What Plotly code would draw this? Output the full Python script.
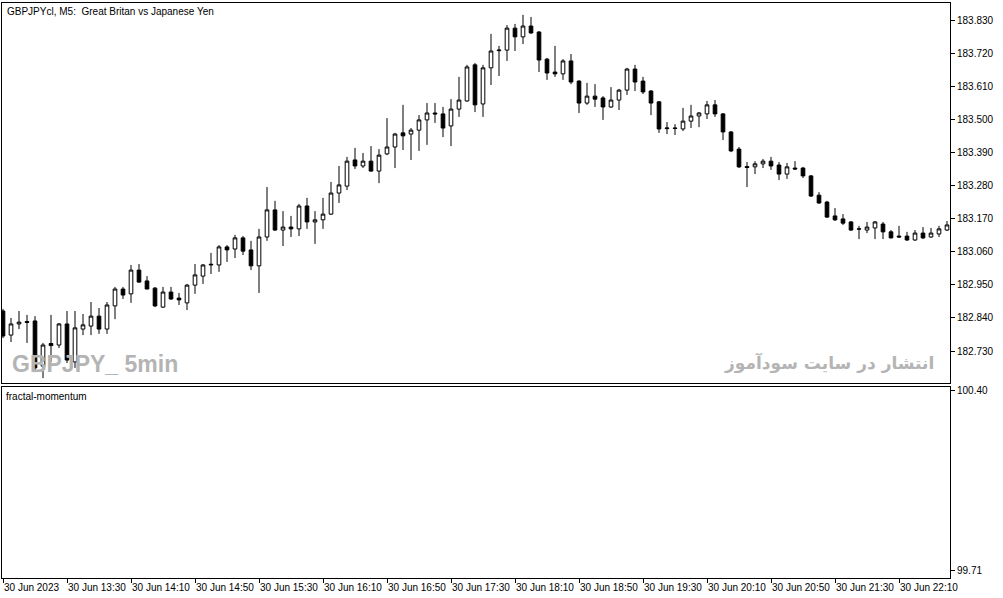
import pandas as pd
import plotly.graph_objects as go
from plotly.subplots import make_subplots

# 5-minute bars, 30 Jun 2023, from 12:50
times = pd.date_range("2023-06-30 12:50", periods=119, freq="5min")

opens = [
    182.863, 182.783, 182.820, 182.828, 182.830, 182.680, 182.755, 182.750, 182.820, 182.694,
    182.803, 182.813, 182.846, 182.803, 182.880, 182.936, 182.920, 182.999, 182.963, 182.939,
    182.876, 182.926, 182.906, 182.890, 182.949, 182.979, 183.016, 183.016, 183.076, 183.069,
    183.106, 183.066, 183.013, 183.109, 183.199, 183.132, 183.142, 183.136, 183.212, 183.159,
    183.166, 183.185, 183.255, 183.278, 183.365, 183.345, 183.361, 183.328, 183.385, 183.408,
    183.455, 183.451, 183.464, 183.498, 183.521, 183.518, 183.478, 183.534, 183.561, 183.681,
    183.551, 183.671, 183.728, 183.730, 183.803, 183.774, 183.810, 183.790, 183.700, 183.657,
    183.651, 183.694, 183.627, 183.554, 183.577, 183.571, 183.541, 183.564, 183.597, 183.667,
    183.627, 183.594, 183.558, 183.469, 183.471, 183.468, 183.494, 183.511, 183.518, 183.548,
    183.518, 183.458, 183.401, 183.343, 183.342, 183.352, 183.361, 183.348, 183.318, 183.338,
    183.338, 183.312, 183.248, 183.225, 183.179, 183.169, 183.159, 183.135, 183.132, 183.139,
    183.152, 183.126, 183.112, 183.112, 183.099, 183.122, 183.109, 183.119, 183.132,
]
highs = [
    182.870, 182.840, 182.863, 182.850, 182.846, 182.757, 182.850, 182.823, 182.863, 182.863,
    182.853, 182.893, 182.873, 182.893, 182.943, 182.943, 183.016, 183.019, 182.979, 182.943,
    182.943, 182.943, 182.923, 182.953, 183.019, 183.019, 183.056, 183.082, 183.082, 183.116,
    183.112, 183.096, 183.136, 183.275, 183.229, 183.195, 183.179, 183.219, 183.239, 183.195,
    183.239, 183.292, 183.345, 183.375, 183.405, 183.388, 183.411, 183.401, 183.504, 183.455,
    183.548, 183.471, 183.514, 183.554, 183.554, 183.541, 183.567, 183.641, 183.681, 183.687,
    183.681, 183.784, 183.744, 183.813, 183.817, 183.847, 183.840, 183.793, 183.704, 183.744,
    183.700, 183.717, 183.630, 183.621, 183.617, 183.577, 183.607, 183.601, 183.671, 183.681,
    183.641, 183.597, 183.561, 183.491, 183.484, 183.538, 183.548, 183.524, 183.561, 183.564,
    183.521, 183.461, 183.408, 183.358, 183.361, 183.368, 183.375, 183.358, 183.355, 183.361,
    183.342, 183.315, 183.258, 183.229, 183.205, 183.185, 183.162, 183.146, 183.159, 183.162,
    183.159, 183.132, 183.146, 183.126, 183.132, 183.142, 183.139, 183.146, 183.162,
]
lows = [
    182.773, 182.760, 182.803, 182.757, 182.660, 182.640, 182.694, 182.740, 182.690, 182.674,
    182.783, 182.783, 182.787, 182.787, 182.836, 182.903, 182.890, 182.957, 182.936, 182.876,
    182.873, 182.900, 182.883, 182.866, 182.920, 182.953, 182.986, 182.993, 183.026, 183.039,
    183.049, 182.999, 182.923, 183.096, 183.129, 183.079, 183.109, 183.112, 183.136, 183.086,
    183.136, 183.182, 183.222, 183.265, 183.335, 183.338, 183.326, 183.288, 183.381, 183.338,
    183.398, 183.365, 183.395, 183.415, 183.488, 183.441, 183.411, 183.508, 183.558, 183.524,
    183.508, 183.614, 183.644, 183.694, 183.727, 183.750, 183.784, 183.657, 183.631, 183.641,
    183.631, 183.617, 183.521, 183.548, 183.541, 183.498, 183.538, 183.531, 183.581, 183.594,
    183.584, 183.514, 183.455, 183.451, 183.448, 183.461, 183.471, 183.474, 183.501, 183.508,
    183.431, 183.391, 183.338, 183.275, 183.318, 183.338, 183.332, 183.298, 183.302, 183.332,
    183.305, 183.242, 183.219, 183.172, 183.162, 183.149, 183.129, 183.102, 183.122, 183.102,
    183.102, 183.104, 183.106, 183.096, 183.096, 183.102, 183.106, 183.109, 183.129,
]
closes = [
    182.780, 182.820, 182.826, 182.825, 182.674, 182.750, 182.748, 182.820, 182.700, 182.807,
    182.817, 182.846, 182.803, 182.883, 182.936, 182.916, 182.999, 182.959, 182.936, 182.880,
    182.926, 182.903, 182.900, 182.949, 182.983, 183.016, 183.018, 183.076, 183.066, 183.106,
    183.062, 183.013, 183.109, 183.199, 183.132, 183.142, 183.136, 183.212, 183.159, 183.166,
    183.185, 183.255, 183.282, 183.361, 183.345, 183.361, 183.328, 183.381, 183.408, 183.451,
    183.445, 183.464, 183.498, 183.521, 183.518, 183.471, 183.534, 183.564, 183.674, 183.548,
    183.671, 183.727, 183.730, 183.803, 183.774, 183.810, 183.787, 183.697, 183.654, 183.651,
    183.694, 183.624, 183.554, 183.577, 183.567, 183.541, 183.564, 183.597, 183.667, 183.624,
    183.591, 183.554, 183.468, 183.471, 183.470, 183.494, 183.511, 183.521, 183.548, 183.518,
    183.458, 183.395, 183.342, 183.340, 183.352, 183.361, 183.345, 183.318, 183.342, 183.335,
    183.312, 183.245, 183.222, 183.175, 183.166, 183.155, 183.132, 183.136, 183.142, 183.159,
    183.126, 183.106, 183.109, 183.099, 183.122, 183.106, 183.122, 183.136, 183.149,
]

price_ticks = [182.730, 182.840, 182.950, 183.060, 183.170, 183.280,
               183.390, 183.500, 183.610, 183.720, 183.830]
ind_ticks = [99.71, 100.40]
time_labels = ["30 Jun 2023", "30 Jun 13:30", "30 Jun 14:10", "30 Jun 14:50",
               "30 Jun 15:30", "30 Jun 16:10", "30 Jun 16:50", "30 Jun 17:30",
               "30 Jun 18:10", "30 Jun 18:50", "30 Jun 19:30", "30 Jun 20:10",
               "30 Jun 20:50", "30 Jun 21:30", "30 Jun 22:10"]

W, H = 1003, 598
ML, MR, MT, MB = 2, 53, 3, 20
plot_h = H - MT - MB


def py(pix):
    # pixel row -> paper y
    return (H - MB - pix) / plot_h


def px(pix):
    return (pix - ML) / (W - ML - MR)


fig = make_subplots(rows=2, cols=1, shared_xaxes=True, vertical_spacing=0)

fig.add_trace(
    go.Candlestick(
        x=times, open=opens, high=highs, low=lows, close=closes,
        increasing=dict(line=dict(color="black", width=1), fillcolor="white"),
        decreasing=dict(line=dict(color="black", width=1), fillcolor="black"),
        whiskerwidth=0, showlegend=False, hoverinfo="skip",
    ),
    row=1, col=1,
)
fig.add_trace(
    go.Scatter(x=[times[0]], y=[None], mode="lines", showlegend=False),
    row=2, col=1,
)

step = pd.Timedelta(minutes=5)
x_range = [times[0] - step * 0.125, times[0] + step * 118.375]
font = dict(family="Liberation Sans, DejaVu Sans, sans-serif", size=10, color="black")

axis_common = dict(showline=True, linecolor="black", linewidth=1, mirror=True,
                   showgrid=False, zeroline=False, automargin=False)

fig.update_xaxes(range=x_range, rangeslider_visible=False, **axis_common)
fig.update_xaxes(showticklabels=False, ticks="", row=1, col=1)
fig.update_xaxes(
    tickvals=list(times[::8]), ticktext=time_labels, ticks="outside", ticklen=4,
    tickcolor="black", ticklabelposition="outside right", tickangle=0, tickfont=font,
    row=2, col=1,
)

fig.update_yaxes(side="right", ticks="outside", ticklen=4, tickcolor="black",
                 tickangle=0, tickfont=font, **axis_common)
fig.update_yaxes(range=[182.6238, 183.8865], tickvals=price_ticks,
                 ticktext=[f"{v:.3f}" for v in price_ticks],
                 domain=[py(383), 1.0], row=1, col=1)
fig.update_yaxes(range=[99.683, 100.415], tickvals=ind_ticks,
                 ticktext=[f"{v:.2f}" for v in ind_ticks],
                 domain=[0.0, py(387)], row=2, col=1)

fig.add_annotation(text="GBPJPYcl, M5:  Great Britan vs Japanese Yen",
                   xref="paper", yref="paper", x=px(5), y=py(4),
                   xanchor="left", yanchor="top", showarrow=False,
                   font=dict(family="Liberation Sans, sans-serif", size=10, color="black"))
fig.add_annotation(text="fractal-momentum",
                   xref="paper", yref="paper", x=px(4), y=py(389),
                   xanchor="left", yanchor="top", showarrow=False,
                   font=dict(family="Liberation Sans, sans-serif", size=10, color="black"))
fig.add_annotation(text="<b>GBPJPY_ 5min</b>",
                   xref="paper", yref="paper", x=px(10), y=py(364),
                   xanchor="left", yanchor="middle", showarrow=False,
                   font=dict(family="Liberation Sans, sans-serif",
                             size=23, color="#b4b4b4"))
fig.add_annotation(text="<b>انتشار در سایت سودآموز</b>",
                   xref="paper", yref="paper", x=px(936), y=py(363),
                   xanchor="right", yanchor="middle", showarrow=False,
                   font=dict(family="DejaVu Sans, sans-serif", size=17, color="#b4b4b4"))

fig.update_layout(
    width=W, height=H, margin=dict(l=ML, r=MR, t=MT, b=MB, pad=0),
    paper_bgcolor="white", plot_bgcolor="white", boxgap=0.35,
    showlegend=False,
)

fig.write_html("out.html", config={"displayModeBar": False},
               post_script="document.body.style.margin='0';"
                           "document.body.style.overflow='hidden';")
